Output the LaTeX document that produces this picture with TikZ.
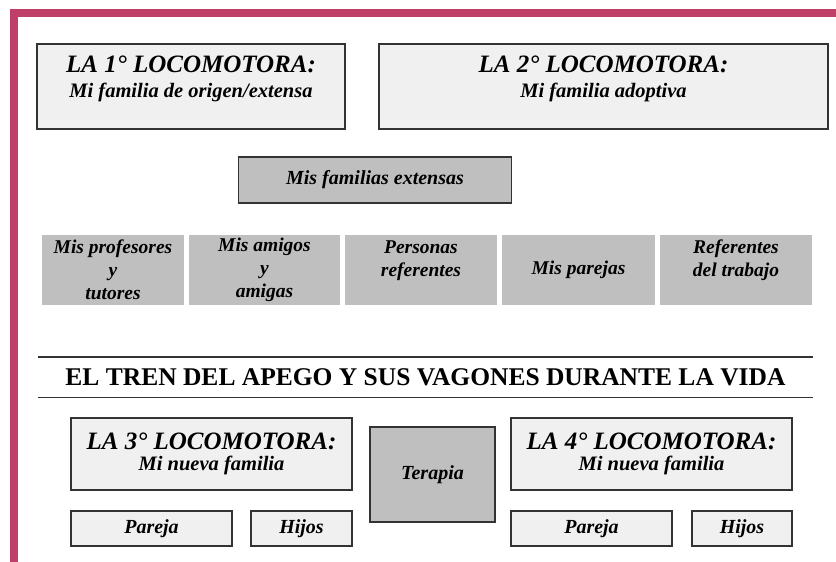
\documentclass[tikz,border=0pt]{standalone}
\usepackage{fontspec}
\setmainfont{Liberation Serif}
\usepackage{tikz}
\usetikzlibrary{positioning}
\definecolor{frame}{RGB}{190,64,104}
\definecolor{boxgray}{RGB}{191,191,191}
\definecolor{boxlight}{RGB}{240,240,240}
\definecolor{rule}{RGB}{51,51,51}
\newcommand{\locohead}[1]{{\fontsize{25}{25}\selectfont #1}}
\tikzstyle{loco} = [rectangle, draw=rule, line width=1.4pt, fill=boxlight, align=center, inner sep=0pt, font={\bfseries\itshape\fontsize{20.5}{25}\selectfont}]
\tikzstyle{ext} = [rectangle, draw=rule, line width=1.4pt, fill=boxgray, align=center, inner sep=0pt, font={\bfseries\itshape\fontsize{20}{23}\selectfont}]
\tikzstyle{cell} = [rectangle, fill=boxgray, align=center, inner sep=0pt, minimum height=70pt, font={\bfseries\itshape\fontsize{19.5}{23}\selectfont}]
\tikzstyle{wagon} = [loco, minimum height=35pt, font={\bfseries\itshape\fontsize{20}{23}\selectfont}]

\begin{document}
\begin{tikzpicture}[
    x=1pt, y=-1pt
  ]
    \useasboundingbox (0,0) rectangle (836,562);
    \draw [frame, line width=8pt] (14,13) rectangle (850,565.5);

    \node [loco, minimum width=308pt, minimum height=85pt, text depth=19pt] at (191,86.5) (loco1)
      {\locohead{LA 1° LOCOMOTORA:}\\
        Mi familia de origen/extensa};
    \node [loco, minimum width=449pt, minimum height=85pt, text depth=19pt] at (603.5,86.5) (loco2)
      {\locohead{LA 2° LOCOMOTORA:}\\
        Mi familia adoptiva};
    \node [ext, minimum width=273pt, minimum height=46pt] at (375,180) (extensas)
      {Mis familias extensas};

    \node [cell, minimum width=142pt] at (113,270) (profes)
      {Mis profesores\\ y\\ tutores};
    \node [cell, minimum width=151pt] at (264.5,270) (amigos)
      {Mis amigos\\ y\\ amigas};
    \node [cell, minimum width=152pt] at (421,270) (personas)
      {Personas\\ referentes\\ \mbox{}};
    \node [cell, minimum width=153pt] at (578.5,270) (parejas)
      {Mis parejas};
    \node [cell, minimum width=152pt] at (736,270) (trabajo)
      {Referentes\\ del trabajo\\ \mbox{}};

    \node [minimum width=775pt, minimum height=40pt, inner sep=0pt,
      font={\bfseries\fontsize{25.5}{28}\selectfont}] at (425.5,377) (title)
      {EL TREN DEL APEGO Y SUS VAGONES DURANTE LA VIDA};
    \draw [rule, line width=1.4pt] (title.north west) -- (title.north east);
    \draw [rule, line width=1.4pt] (title.south west) -- (title.south east);

    \node [loco, minimum width=281pt, minimum height=72pt,
      font={\bfseries\itshape\fontsize{20.5}{21}\selectfont}] at (211.5,454) (loco3)
      {\locohead{LA 3° LOCOMOTORA:}\\
        Mi nueva familia};
    \node [loco, minimum width=281pt, minimum height=72pt,
      font={\bfseries\itshape\fontsize{20.5}{21}\selectfont}] at (651.5,454) (loco4)
      {\locohead{LA 4° LOCOMOTORA:}\\
        Mi nueva familia};
    \node [ext, minimum width=125pt, minimum height=95pt] at (432.5,474.5) (terapia)
      {Terapia};

    \node [wagon, minimum width=161pt] at (151.5,528.5) (pareja3) {Pareja};
    \node [wagon, minimum width=101pt] at (301.5,528.5) (hijos3) {Hijos};
    \node [wagon, minimum width=161pt] at (591.5,528.5) (pareja4) {Pareja};
    \node [wagon, minimum width=100pt] at (742,528.5) (hijos4) {Hijos};
  \end{tikzpicture}
\end{document}
